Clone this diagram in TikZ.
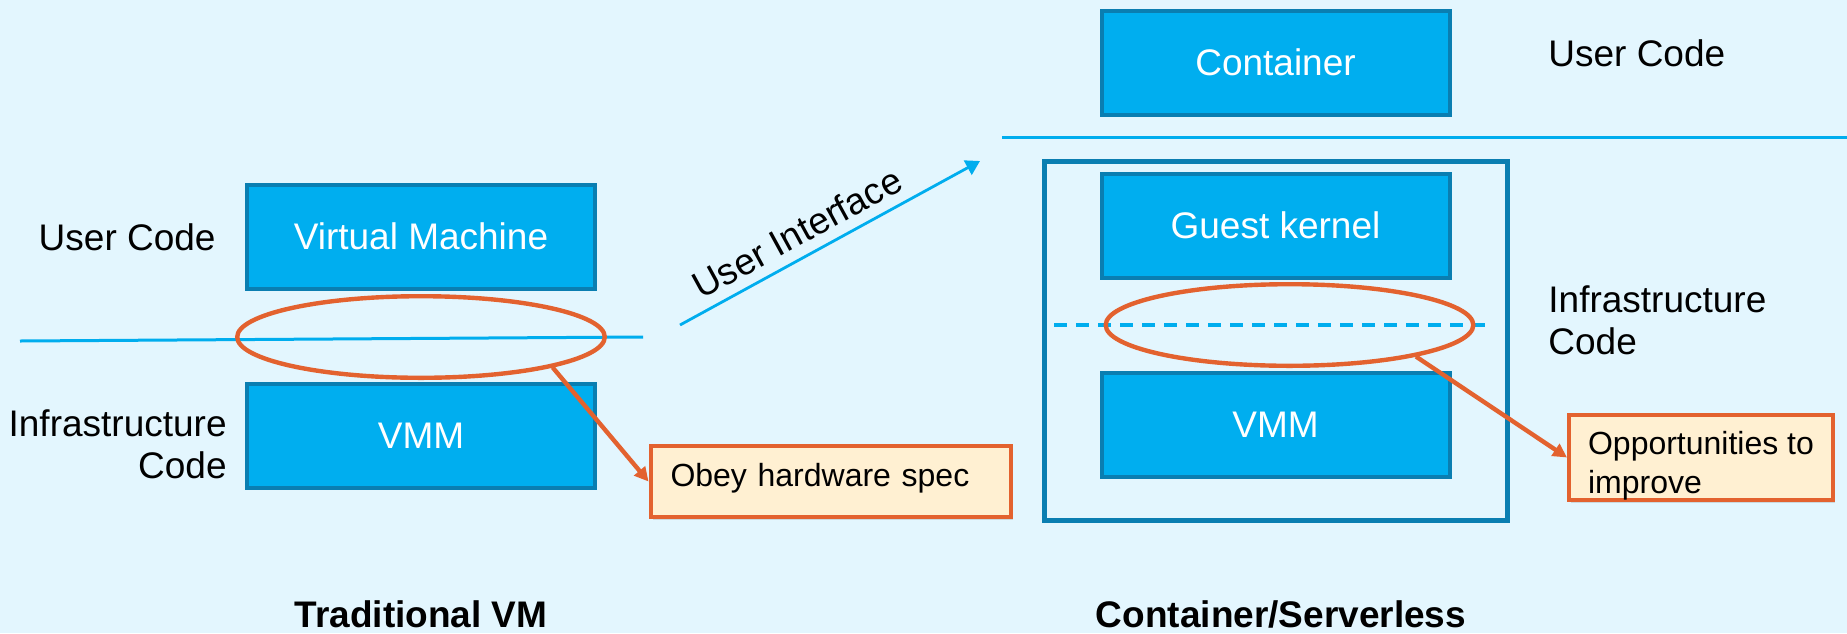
\documentclass[tikz,border=0pt]{standalone}
\usepackage{fontspec}
\setmainfont{Liberation Sans}
\usepackage{xcolor}
\usetikzlibrary{arrows.meta,shapes.geometric,shadows}

\definecolor{bgblue}{HTML}{E3F6FE}
\definecolor{layerfill}{HTML}{00AEEF}
\definecolor{layerline}{HTML}{0A7EB1}
\definecolor{sepline}{HTML}{00ADEE}
\definecolor{hot}{HTML}{E3622F}
\definecolor{notefill}{HTML}{FFF0D2}

\begin{document}
\begin{tikzpicture}[x=0.5pt, y=-0.5pt,
  layer/.style={rectangle, draw=layerline, line width=2pt, fill=layerfill, text=white,
    minimum width=174pt, minimum height=52pt, font=\fontsize{18.5}{22}\selectfont},
  side/.style={inner sep=0pt, font=\fontsize{18.5}{21}\selectfont},
  title/.style={inner sep=0pt, font=\bfseries\fontsize{18.5}{22}\selectfont},
  sep/.style={draw=sepline, line width=1.5pt},
  ring/.style={ellipse, draw=hot, line width=2.2pt, inner sep=0pt,
    minimum width=183.8pt, minimum height=40.8pt},
  note/.style={rectangle, draw=hot, line width=2pt, fill=notefill, align=left,
    inner ysep=0pt, font=\fontsize{16}{19.5}\selectfont,
    drop shadow={opacity=0.25, shadow xshift=1.2pt, shadow yshift=-1.5pt}},
  callout/.style={draw=hot, line width=2.2pt, -{Triangle[length=7pt,width=7pt]}},
]
% canvas
\useasboundingbox (0,0) rectangle (1847,633);
\fill[bgblue] (0,0) rectangle (1847,633);

% traditional VM stack
\node[layer] (vm) at (421,236.5) {Virtual Machine};
\node[layer] (vmmL) at (421,435.5) {VMM};
\draw[sep] (20,341) -- (643,337);
\node[side, anchor=base east] (userL) at (216,250) {User Code};
\node[side, anchor=north east, align=right] (infraL) at (227,409) {Infrastructure\\Code};
\node[ring] (ringL) at (421,337) {};
\node[note, text width=160pt, inner xsep=10pt, minimum height=35.5pt] (noteL)
  at (830.5,481.5) {\rule[-15.5pt]{0pt}{35.5pt}Obey hardware spec};
\draw[callout] (ringL.-13) -- (noteL.west);

% user interface arrow
\coordinate (uiS) at (680,325);
\coordinate (uiE) at (980,161);
\draw[sepline, line width=1.4pt, -{Triangle[length=7pt,width=8pt]}] (uiS) --
  node[sloped, above, pos=0.43, inner sep=5pt, text=black,
    font=\fontsize{18.5}{22}\selectfont] {User Interface} (uiE);

% container / serverless stack
\draw[sep] (1002,137.5) -- (1847,137.5);
\node[rectangle, draw=layerline, line width=2.5pt, minimum width=231.5pt,
  minimum height=179.5pt] (host) at (1276,341) {};
\node[layer] (cont) at (1275.5,62.5) {Container};
\node[layer] (guest) at (1275.5,225.5) {Guest kernel};
\node[layer] (vmmR) at (1275.5,425) {VMM};
\draw[sep, line width=2pt, dash pattern=on 6.5pt off 4.5pt] (1054,325) -- (1493,325);
\node[side, anchor=base west] (userR) at (1548,66) {User Code};
\node[side, anchor=north west, align=left] (infraR) at (1548,285) {Infrastructure\\Code};
\node[ring] (ringR) at (1289.5,325) {};
\node[note, minimum width=132pt, minimum height=42.5pt] (noteR)
  at (1701,457.5) {\rule{0pt}{20pt}Opportunities to\\improve};
\draw[callout] (ringR.-14) -- (noteR.west);

% captions
\node[title, anchor=base] (capL) at (421,627) {Traditional VM};
\node[title, anchor=base] (capR) at (1281,627) {Container/Serverless};
\end{tikzpicture}
\end{document}
